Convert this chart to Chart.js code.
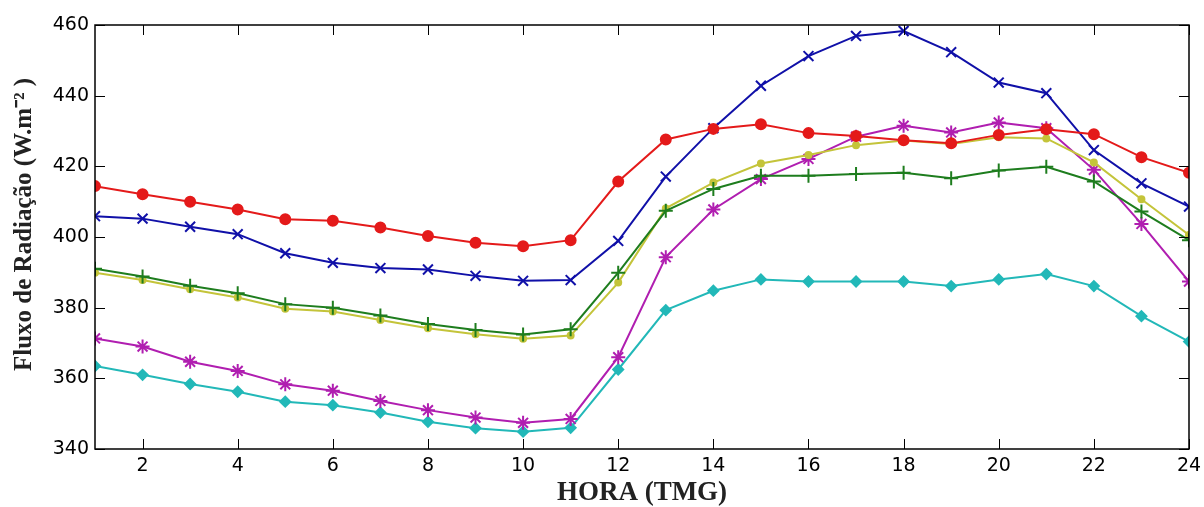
<!DOCTYPE html>
<html>
<head>
<meta charset="utf-8">
<script src="https://cdn.jsdelivr.net/npm/chart.js@4.4.1/dist/chart.umd.min.js"></script>
<style>
  html, body { margin: 0; padding: 0; background: #fff; }
  #wrap { width: 1204px; height: 507px; }
</style>
</head>
<body>
<div id="wrap"><canvas id="grafico"></canvas></div>
<script>
const horas = [1,2,3,4,5,6,7,8,9,10,11,12,13,14,15,16,17,18,19,20,21,22,23,24];
const xTicks = [2,4,6,8,10,12,14,16,18,20,22,24];
const yTicks = [340,360,380,400,420,440,460];

// valores
const vermelho = [414.4,412.1,410.0,407.8,405.0,404.6,402.7,400.3,398.4,397.4,399.1,415.7,427.6,430.6,431.9,429.4,428.6,427.4,426.5,428.9,430.5,429.1,422.6,418.2];
const azul     = [405.9,405.2,402.9,400.8,395.4,392.7,391.2,390.8,389.0,387.6,387.8,398.9,417.1,430.8,442.8,451.2,456.9,458.3,452.3,443.7,440.7,424.6,415.2,408.6];
const verde    = [391.0,388.8,386.2,384.1,381.0,380.0,377.8,375.4,373.7,372.4,373.9,389.9,407.4,413.6,417.3,417.3,417.8,418.2,416.6,418.8,419.9,415.7,407.2,399.1];
const amarelo  = [389.9,387.8,385.2,382.9,379.7,378.9,376.5,374.2,372.5,371.2,372.1,387.1,408.1,415.4,420.8,423.2,426.0,427.3,426.3,428.2,427.9,421.1,410.7,400.6];
const magenta  = [371.3,369.0,364.7,362.1,358.3,356.5,353.6,351.0,348.9,347.4,348.5,366.0,394.3,407.8,416.4,422.1,428.4,431.5,429.6,432.4,430.8,419.0,403.7,387.4];
const ciano    = [363.5,361.0,358.4,356.2,353.4,352.4,350.3,347.7,345.9,344.9,346.0,362.5,379.3,384.8,388.0,387.4,387.4,387.4,386.1,388.0,389.5,386.1,377.6,370.4];

function serie(valores, cor, estilo, raio) {
  return {
    data: valores.map((v, i) => ({ x: horas[i], y: v })),
    borderColor: cor,
    backgroundColor: cor,
    borderWidth: 2,
    pointStyle: estilo,
    pointRadius: raio,
    pointBorderWidth: 2,
    pointBorderColor: cor,
    pointBackgroundColor: cor,
    tension: 0
  };
}

// ticks para dentro, estilo matlab
const caixa = {
  id: 'caixa',
  afterDraw(chart) {
    const c = chart.ctx, a = chart.chartArea;
    const sx = chart.scales.x, sy = chart.scales.y;
    const L = 10;
    c.save();
    c.strokeStyle = '#000';
    c.lineWidth = 1.5;
    c.strokeRect(a.left, a.top, a.right - a.left, a.bottom - a.top);
    c.lineWidth = 1;
    c.beginPath();
    sx.ticks.forEach(t => {
      const px = Math.round(sx.getPixelForValue(t.value)) + 0.5;
      c.moveTo(px, a.bottom); c.lineTo(px, a.bottom - L);
      c.moveTo(px, a.top); c.lineTo(px, a.top + L);
    });
    sy.ticks.forEach(t => {
      const py = Math.round(sy.getPixelForValue(t.value)) + 0.5;
      c.moveTo(a.left, py); c.lineTo(a.left + L, py);
      c.moveTo(a.right, py); c.lineTo(a.right - L, py);
    });
    c.stroke();
    c.restore();
  }
};

new Chart(document.getElementById('grafico'), {
  type: 'line',
  data: {
    datasets: [
      serie(vermelho, '#e41a1a', 'circle', 5),
      serie(azul, '#1010a8', 'crossRot', 7),
      serie(verde, '#1e7d1e', 'cross', 7),
      serie(amarelo, '#c4c43a', 'circle', 3),
      serie(magenta, '#b01eb0', 'star', 7),
      serie(ciano, '#22b8b8', 'rectRot', 5)
    ]
  },
  options: {
    responsive: true,
    maintainAspectRatio: false,
    animation: false,
    layout: { padding: { top: 25, right: 15, left: 0, bottom: 0 } },
    plugins: { legend: { display: false }, tooltip: { enabled: false } },
    scales: {
      x: {
        type: 'linear',
        min: 1,
        max: 24,
        afterBuildTicks: s => { s.ticks = xTicks.map(v => ({ value: v })); },
        afterFit: s => { s.height = 58; s.paddingLeft = 0; s.paddingRight = 0; },
        grid: { display: false, drawTicks: false },
        border: { display: false },
        ticks: { color: '#000', font: { family: 'DejaVu Sans', size: 19 }, padding: 6, maxRotation: 0 },
        title: { display: true, text: 'HORA (TMG)', color: '#222', font: { family: 'Liberation Serif', size: 27, weight: 'bold', lineHeight: 1 }, padding: { top: 0, bottom: 0 } }
      },
      y: {
        min: 340,
        max: 460,
        afterBuildTicks: s => { s.ticks = yTicks.map(v => ({ value: v })); },
        afterFit: s => { s.width = 95; },
        grid: { display: false, drawTicks: false },
        border: { display: false },
        ticks: { color: '#000', font: { family: 'DejaVu Sans', size: 19 }, padding: 6 },
        title: { display: true, text: '\u00a0\u00a0\u00a0\u00a0Fluxo de Radiação (W.m⁻² )', color: '#222', font: { family: 'Liberation Serif', size: 25, weight: 'bold', lineHeight: 1 }, padding: { top: 12, bottom: 0 } }
      }
    }
  },
  plugins: [caixa]
});
</script>
</body>
</html>
